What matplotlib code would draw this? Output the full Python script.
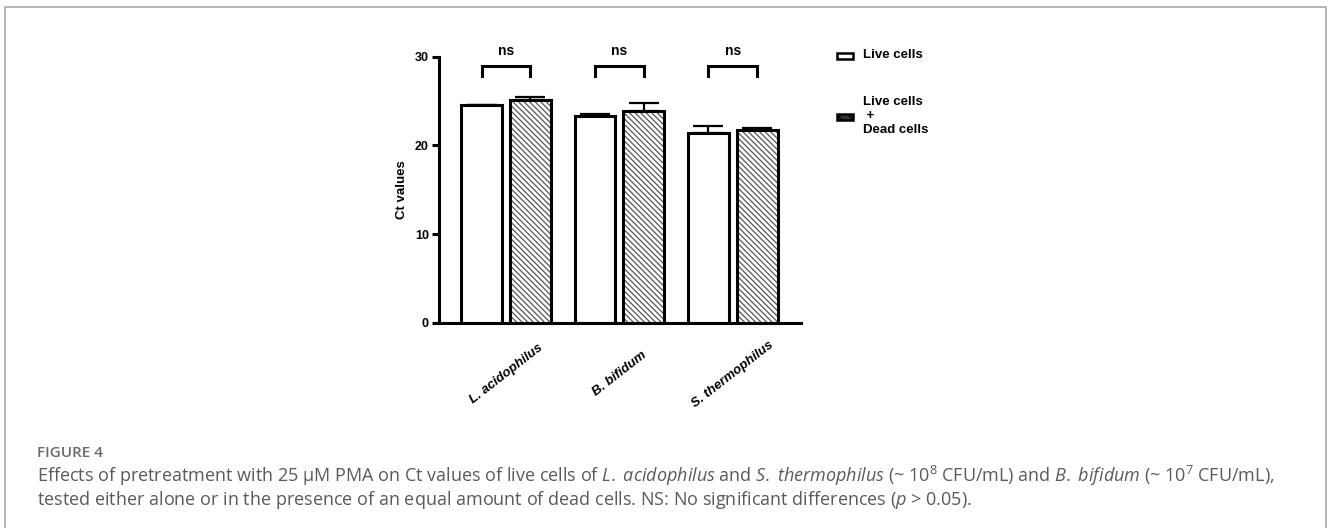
import numpy as np
import matplotlib
matplotlib.use("Agg")
import matplotlib.pyplot as plt
from matplotlib.patches import Rectangle
from matplotlib.lines import Line2D

# values
species = ["L. acidophilus", "B. bifidum", "S. thermophilus"]
live_ct = [24.5, 23.3, 21.4]
live_err = [0.1, 0.25, 0.8]
mixed_ct = [25.1, 23.85, 21.7]
mixed_err = [0.4, 0.95, 0.25]
sig_labels = ["ns", "ns", "ns"]
legend_labels = ["Live cells", "Live cells\n +\nDead cells"]
y_ticks = [0, 10, 20, 30]

plt.rcParams["font.family"] = ["Liberation Sans", "DejaVu Sans"]
plt.rcParams["hatch.linewidth"] = 0.9
plt.rcParams["mathtext.fontset"] = "custom"
plt.rcParams["mathtext.rm"] = "Open Sans"
plt.rcParams["mathtext.it"] = "Open Sans:italic"

W, H = 1328, 528
fig = plt.figure(figsize=(W / 100, H / 100), dpi=100)
fig.patch.set_facecolor("white")

# axes placed in pixel terms
ax = fig.add_axes([439 / W, 1 - 322.7 / H, (801 - 439) / W, 266 / H])

x = np.arange(len(species))
off = 0.215
bw = 0.36
lw = 2.2

# error bars sit under the bars so only the upper half shows
ax.errorbar(x - off, live_ct, yerr=[np.zeros(3), live_err], fmt="none",
            ecolor="black", elinewidth=1.6, capsize=11, capthick=1.6, zorder=1)
ax.errorbar(x + off, mixed_ct, yerr=[np.zeros(3), mixed_err], fmt="none",
            ecolor="black", elinewidth=1.6, capsize=11, capthick=1.6, zorder=1)

ax.bar(x - off, live_ct, bw, color="white", edgecolor="black", linewidth=lw, zorder=2)
ax.bar(x + off, mixed_ct, bw, color="white", edgecolor="#555555", hatch="\\\\\\\\\\\\",
       linewidth=0, zorder=2)
ax.bar(x + off, mixed_ct, bw, fill=False, edgecolor="black", linewidth=lw, zorder=3)

# significance brackets
for i, lab in enumerate(sig_labels):
    ax.plot([x[i] - off, x[i] - off, x[i] + off, x[i] + off],
            [27.8, 28.9, 28.9, 27.8], color="black", lw=lw,
            clip_on=False, solid_joinstyle="miter")
    ax.text(x[i], 30.6, lab, ha="center", va="center", fontsize=10,
            fontweight="bold")

ax.set_xlim(-0.591, 2.602)
ax.set_ylim(0, 30)
ax.set_yticks(y_ticks)
ax.set_yticklabels([str(t) for t in y_ticks], fontsize=9, fontweight="bold")
ax.tick_params(axis="y", length=5.3, width=lw, pad=2)
ax.set_xticks(x)
ax.set_xticklabels(species, rotation=38, ha="center", va="center",
                   rotation_mode="anchor", fontsize=9.5, fontweight="bold",
                   fontstyle="italic")
ax.tick_params(axis="x", length=0, pad=37)
ax.set_ylabel("Ct values", fontsize=9.5, fontweight="bold")
ax.yaxis.set_label_coords(-0.086, 0.5)

for s in ["top", "right"]:
    ax.spines[s].set_visible(False)
for s in ["left", "bottom"]:
    ax.spines[s].set_linewidth(lw)

# legend drawn by hand
def fx(px):
    return px / W

def fy(py):
    return 1 - py / H

r1 = Rectangle((fx(837), fy(58.5)), 16 / W, 6 / H, transform=fig.transFigure,
               facecolor="white", edgecolor="black", linewidth=1.8)
r2 = Rectangle((fx(837), fy(119.5)), 16 / W, 6 / H, transform=fig.transFigure,
               facecolor="#333333", edgecolor="black", linewidth=1.8,
               hatch="\\\\\\")
fig.add_artist(r1)
fig.add_artist(r2)
fig.text(fx(863), fy(55), legend_labels[0], ha="left", va="center",
         fontsize=9.5, fontweight="bold")
fig.text(fx(863), fy(116), legend_labels[1], ha="left", va="center",
         fontsize=9.5, fontweight="bold", linespacing=1.2)

# frame around the panel
fig.add_artist(Line2D([fx(5), fx(5), fx(1326), fx(1326)],
                      [fy(540), fy(7), fy(7), fy(540)],
                      transform=fig.transFigure, color="#a8a8a8", lw=1.2))

# caption
cap_col = "#5a5a5a"
fig.text(fx(37), fy(453), "FIGURE 4", ha="left", va="center", fontsize=11,
         color="#6a6a6a", family="Open Sans", fontweight="semibold")
caption = (r"Effects of pretreatment with 25 µM PMA on Ct values of live cells of "
           r"$\mathit{L.}$ $\mathit{acidophilus}$ and $\mathit{S.}$ $\mathit{thermophilus}$ (~ 10$^{8}$ CFU/mL) "
           r"and $\mathit{B.}$ $\mathit{bifidum}$ (~ 10$^{7}$ CFU/mL),"
           "\n"
           r"tested either alone or in the presence of an equal amount of dead cells. "
           r"NS: No significant differences ($\mathit{p}$ > 0.05).")
fig.text(fx(37), fy(487.5), caption, ha="left", va="center", fontsize=12.95,
         color=cap_col, family="Open Sans", linespacing=1.06)

fig.savefig("out.png", dpi=100, facecolor="white")
